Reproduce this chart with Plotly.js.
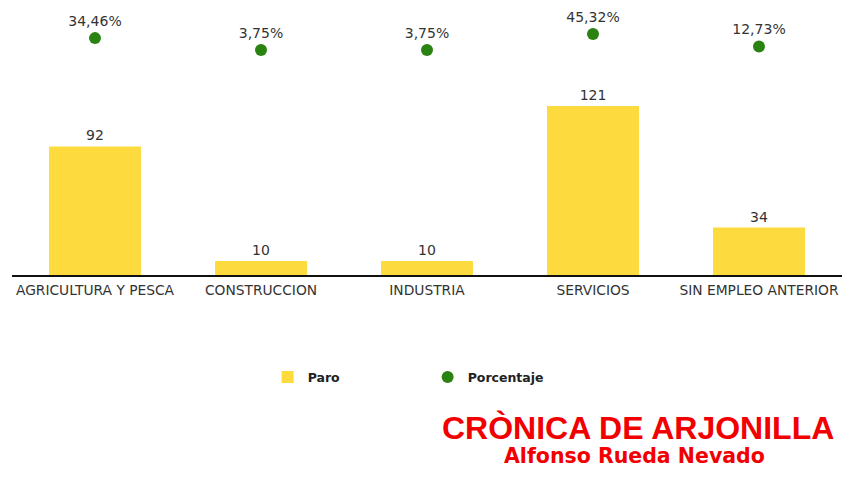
<!DOCTYPE html>
<html>
<head>
<meta charset="utf-8">
<script src="https://cdn.plot.ly/plotly-3.0.1.min.js"></script>
<style>html,body{margin:0;padding:0;background:#fff;}#chart{width:864px;height:478px;}</style>
</head>
<body>
<div id="chart"></div>
<script>
var categories = ["AGRICULTURA Y PESCA", "CONSTRUCCION", "INDUSTRIA", "SERVICIOS", "SIN EMPLEO ANTERIOR"];
var paro = [92, 10, 10, 121, 34];
var porcentaje = [34.46, 3.75, 3.75, 45.32, 12.73];
var pctLabels = porcentaje.map(function(v){ return v.toFixed(2).replace('.', ',') + '%'; });

var W = 864, H = 478;
var mL = 12, mR = 22, mT = 10, mB = 203;
var plotH = H - mT - mB;
var plotW = W - mL - mR;

var traces = [
  {
    type: 'bar', name: 'Paro', x: categories, y: paro,
    text: paro.map(String), textposition: 'outside', cliponaxis: false,
    textfont: {family: 'DejaVu Sans', size: 14, color: '#333333'},
    marker: {color: '#FDDB3E'},
    hoverinfo: 'none'
  },
  {
    type: 'scatter', mode: 'markers+text', name: 'Porcentaje', x: categories, y: porcentaje,
    yaxis: 'y2', text: pctLabels, textposition: 'top center', cliponaxis: false,
    textfont: {family: 'DejaVu Sans', size: 14, color: '#333333'},
    marker: {color: '#2A8211', size: 12},
    hoverinfo: 'none'
  }
];

var layout = {
  width: W, height: H,
  margin: {l: mL, r: mR, t: mT, b: mB, pad: 0},
  paper_bgcolor: '#ffffff', plot_bgcolor: '#ffffff',
  bargap: 0.446,
  showlegend: true,
  legend: {
    orientation: 'h', x: 0.308, xanchor: 'left', y: -0.33, yanchor: 'top',
    entrywidth: 115, entrywidthmode: 'pixels',
    font: {family: 'DejaVu Sans', size: 12.5, color: '#222222', weight: 'bold'},
    itemclick: false, itemdoubleclick: false
  },
  xaxis: {
    showline: true, linecolor: '#111111', linewidth: 1.5,
    showgrid: false, zeroline: false, ticks: '',
    ticklabelstandoff: 2,
    tickfont: {family: 'DejaVu Sans', size: 13.8, color: '#333333'},
    fixedrange: true
  },
  yaxis: {
    range: [0, 189.7], visible: false, showgrid: false, zeroline: false, fixedrange: true
  },
  yaxis2: {
    range: [-580.8, 107.5], overlaying: 'y', visible: false, showgrid: false, zeroline: false, fixedrange: true
  },
  annotations: [
    {
      xref: 'paper', yref: 'paper', x: (638 - mL) / plotW, y: (275 - 428) / plotH,
      xanchor: 'center', yanchor: 'middle', showarrow: false,
      text: 'CRÒNICA DE ARJONILLA',
      font: {family: 'Liberation Sans', size: 32, color: '#F20000', weight: 'bold'}
    },
    {
      xref: 'paper', yref: 'paper', x: (634 - mL) / plotW, y: (275 - 456) / plotH,
      xanchor: 'center', yanchor: 'middle', showarrow: false,
      text: 'Alfonso Rueda Nevado',
      font: {family: 'DejaVu Sans', size: 20.5, color: '#F20000', weight: 'bold'}
    }
  ]
};

Plotly.newPlot('chart', traces, layout, {displayModeBar: false, staticPlot: true});
</script>
</body>
</html>
